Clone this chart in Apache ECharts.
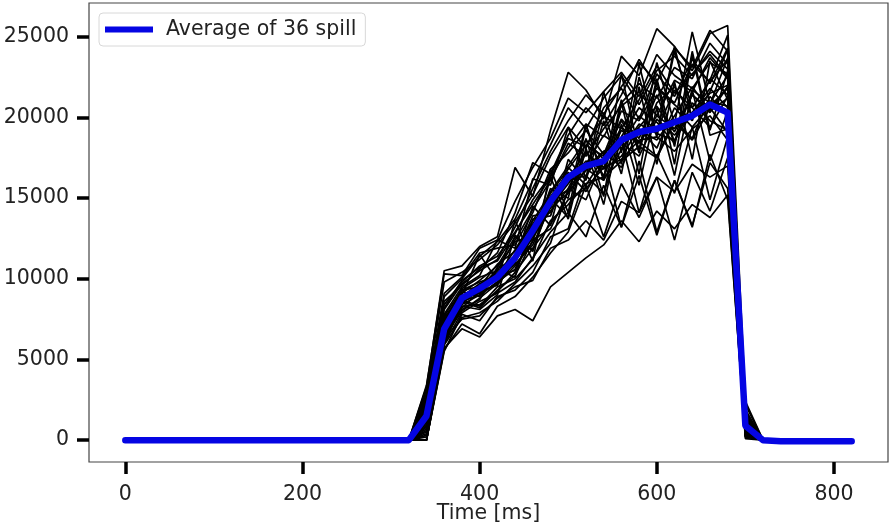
<!DOCTYPE html>
<html><head><meta charset="utf-8">
<script src="https://cdn.jsdelivr.net/npm/echarts@6/dist/echarts.min.js"></script>
<style>html,body{margin:0;padding:0;background:#fff}#c{width:892px;height:525px}</style>
</head><body><div id="c"></div>
<script>
// Time samples [ms]
const times = [0,20,40,60,80,100,120,140,160,180,200,220,240,260,280,300,320,
  340,360,380,400,420,440,460,480,500,520,540,560,580,600,620,640,660,680,700,
  720,740,760,780,800,820];
// Baseline (no beam) before and after the spill
const baselineBefore = [0,0,0,0,0,0,0,0,0,0,0,0,0,0,0,0,0];
const baselineAfter = [0,-50,-50,-50,-50,-50];
// Individual spills, values at 340..700 ms
const spill01 = [0,6200,8400,9000,9800,10600,12800,14200,15600,17800,16900,19200,18400,20100,19300,21400,20500,21900,600];
const spill02 = [2400,7800,9500,10200,12400,11900,16200,15800,19400,16200,21600,17800,23300,18900,24100,20600,22300,25100,1200];
const spill03 = [1200,6500,8100,8700,10600,10100,13700,13900,16900,15800,17500,19900,18700,21400,18500,20900,19800,19200,400];
const spill04 = [3100,9800,10400,11200,12100,13500,15200,17600,19400,18100,20600,21800,19900,22700,21300,23600,22100,24300,1800];
const spill05 = [0,5600,7200,6600,8300,8900,10100,11600,12900,15800,12600,15900,13800,16300,12400,16600,14200,17500,300];
const spill06 = [1800,7200,9100,9900,10800,12600,11800,14700,16200,17900,16400,18800,20600,19700,18400,21700,20900,22600,900];
const spill07 = [900,6000,8600,8200,9300,10200,12400,13100,15400,16700,20300,17100,22500,18800,24400,19900,21600,24200,700];
const spill08 = [2700,8400,9800,10800,11400,12900,14600,16300,18100,19600,18800,20900,22100,21200,23100,22400,24600,23300,1500];
const spill09 = [400,6700,8200,9200,9600,11100,14500,13300,17400,16100,19800,16500,21900,17100,22200,17400,23500,21100,500];
const spill10 = [1500,7400,9300,9500,10900,11700,13400,15100,16600,15400,17200,19400,18500,17600,19800,18700,21300,20100,1100];
const spill11 = [0,5900,7600,7900,8600,9700,10800,12200,15600,14900,17500,13200,16400,12700,16100,13300,17200,15600,200];
const spill12 = [3400,10300,10200,11900,12400,14800,16900,18700,21200,20300,21600,22800,21300,23900,22600,21800,23400,22700,2200];
const spill13 = [1100,7000,8800,9100,10100,10900,12100,14500,15900,17300,16800,17600,19300,18100,20600,19400,20700,21800,800];
const spill14 = [2000,7600,9000,11500,9900,13600,11100,16800,14100,19500,16100,22700,17900,23400,19600,25300,20800,23700,1000];
const spill15 = [600,6300,8900,9700,10300,10500,12700,15400,17000,18600,17400,18300,20100,19200,21700,20600,19400,21300,600];
const spill16 = [2200,8100,9700,10500,11200,13200,15600,17900,19800,21400,20200,21900,23400,22200,24300,23100,25400,24100,1400];
const spill17 = [0,5500,7800,7400,8900,9300,10400,12600,13100,16400,15300,18600,14100,17700,15300,19400,14900,18800,300];
const spill18 = [1600,7100,8700,9600,10000,11400,13900,14100,16400,16900,17900,18400,17600,19900,18900,20300,21800,20600,900];
const spill19 = [800,6600,9200,8900,10700,12300,12600,15600,15000,19600,16200,21100,17800,22400,18200,24100,19200,22900,700];
const spill20 = [2900,9100,10100,11600,11900,12100,14100,16800,17800,19200,17700,20400,19800,21800,20800,19800,22400,21400,1600];
const spill21 = [300,6100,8300,8400,9200,10400,11900,13400,14900,15600,16900,17400,18600,18800,17900,19300,20100,18600,400];
const spill22 = [1300,6900,8500,9300,10400,11000,13300,14900,15500,17100,18900,18100,19400,20700,19100,21400,20300,21900,800];
const spill23 = [3300,10500,10800,12000,12600,16900,15100,19200,22800,21700,19900,23800,22600,25500,24400,22900,25200,25700,2400];
const spill24 = [0,5700,6900,6400,7700,8100,7400,9500,10400,11300,12100,13600,12300,14200,13100,14600,13800,15200,100];
const spill25 = [1900,7300,9400,10100,10500,12400,14300,16100,18400,17600,19300,20700,21600,20100,22300,21600,23700,22400,1300];
const spill26 = [700,6400,8000,8800,9700,10800,12300,16300,13700,18100,14600,19600,15800,20600,16400,21700,17300,20400,500];
const spill27 = [2500,8600,9600,10600,11600,14100,17200,16500,18900,20600,19500,21400,23600,21900,20900,23300,22200,23600,1700];
const spill28 = [1000,6800,8700,8300,9500,10000,11200,13600,14600,15900,16300,17300,18200,17500,19700,18600,20600,19100,600];
const spill29 = [0,6000,7900,8600,9100,9800,11300,12900,14100,12600,15800,13200,17300,12900,16100,13200,17700,14900,200];
const spill30 = [2100,7700,9300,9800,10200,11800,13600,15300,16800,18300,17600,19800,18100,20900,21900,20100,21500,22000,1100];
const spill31 = [1400,7500,8900,9400,10600,11300,12900,14600,16100,16400,17900,16900,19200,18600,20100,21900,20400,21200,900];
const spill32 = [500,6100,8300,8100,9000,12700,11700,15000,13800,18700,15100,20900,16500,22300,17100,23900,18900,19300,400];
const spill33 = [2600,8900,10000,11400,12300,13700,16100,18300,20600,19300,21200,22600,20800,22900,23800,22600,24100,23000,1900];
const spill34 = [1700,7100,8600,9000,9800,11200,12500,14400,15300,16800,16100,18000,19600,19000,18600,20300,21000,20700,1000];
const spill35 = [200,6300,7500,7700,8800,9500,9900,11900,12400,13600,12400,14800,14100,16300,15400,17100,16300,17000,300];
const spill36 = [2300,8200,9900,10700,11100,12800,14900,16400,18700,18200,20100,19300,21100,23200,21500,22700,23900,22500,1500];
const spills = [spill01,spill02,spill03,spill04,spill05,spill06,spill07,spill08,spill09,spill10,
  spill11,spill12,spill13,spill14,spill15,spill16,spill17,spill18,spill19,spill20,
  spill21,spill22,spill23,spill24,spill25,spill26,spill27,spill28,spill29,spill30,
  spill31,spill32,spill33,spill34,spill35,spill36];
// Average of the spills (blue)
const averageValues = [0,0,0,0,0,0,0,0,0,0,0,0,0,0,0,0,0,
  1500,6900,8800,9400,10100,11300,13000,14800,16300,17000,17300,18600,19100,19300,19700,20100,20800,20300,900,
  0,-60,-60,-60,-60,-60];
const xTicks = [0,200,400,600,800];
const yTicks = [0,5000,10000,15000,20000,25000];
const legendLabel = 'Average of 36 spill';
const xAxisTitle = 'Time [ms]';

const font = 'DejaVu Sans';
const fs = 20.5;
const series = [];
spills.forEach((s, i) => {
  const full = baselineBefore.concat(s, baselineAfter);
  series.push({
    name: 'spill' + (i + 1), type: 'line', silent: true, showSymbol: false, symbol: 'none',
    lineStyle: { color: '#000', width: 1.7 }, z: 2,
    data: times.map((t, k) => [t, full[k]])
  });
});
series.push({
  name: legendLabel, type: 'line', showSymbol: false, symbol: 'none',
  lineStyle: { color: '#0505e3', width: 6.5, join: 'round', cap: 'round' }, itemStyle: { color: '#0505e3' }, z: 5,
  data: times.map((t, k) => [t, averageValues[k]])
});

const chart = echarts.init(document.getElementById('c'), null, { renderer: 'canvas' });
chart.setOption({
  animation: false,
  backgroundColor: '#fff',
  grid: { left: 89, right: 4, top: 3, bottom: 63, containLabel: false, outerBoundsMode: 'none',
    show: true, borderColor: '#444', borderWidth: 1.2, backgroundColor: 'transparent' },
  legend: {
    data: [legendLabel], left: 99, top: 13, orient: 'horizontal',
    icon: 'rect', itemWidth: 48, itemHeight: 6,
    padding: [6, 9, 6, 6], borderColor: '#d8d8d8', borderWidth: 1, borderRadius: 4,
    backgroundColor: 'rgba(255,255,255,0.85)',
    textStyle: { fontFamily: font, fontSize: fs, color: '#222', padding: [0, 0, 0, 8] }
  },
  xAxis: {
    type: 'value', min: -41, max: 861,
    axisLine: { show: false, onZero: false },
    splitLine: { show: false },
    axisTick: { show: true, length: 12, lineStyle: { color: '#000', width: 3.5 }, customValues: xTicks },
    axisLabel: { customValues: xTicks, margin: 22, fontFamily: font, fontSize: fs, color: '#222', formatter: v => String(v) },
    name: xAxisTitle, nameLocation: 'middle', nameGap: 41, nameMoveOverlap: false,
    nameTextStyle: { fontFamily: font, fontSize: fs, color: '#222', verticalAlign: 'top' }
  },
  yAxis: {
    type: 'value', min: -1353, max: 27093,
    axisLine: { show: false, onZero: false },
    splitLine: { show: false },
    axisTick: { show: true, length: 12, lineStyle: { color: '#000', width: 3.5 }, customValues: yTicks },
    axisLabel: { customValues: yTicks, margin: 20, fontFamily: font, fontSize: fs, color: '#222', formatter: v => String(v) }
  },
  series: series
});
</script>
</body></html>
